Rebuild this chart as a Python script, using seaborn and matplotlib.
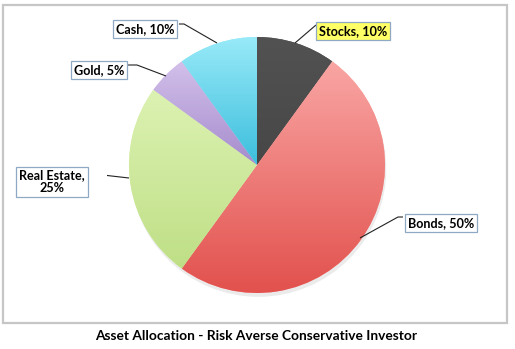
import matplotlib
matplotlib.use("Agg")
import matplotlib.pyplot as plt
import seaborn as sns
import numpy as np
from matplotlib.colors import LinearSegmentedColormap
from matplotlib.patches import Rectangle

sns.set_theme(style="white")
plt.rcParams['font.family'] = ['Lato', 'DejaVu Sans']

categories = ["Stocks", "Bonds", "Real Estate", "Gold", "Cash"]
values = [10, 50, 25, 5, 10]
label_texts = ["Stocks, 10%", "Bonds, 50%", "Real Estate,\n25%", "Gold, 5%", "Cash, 10%"]
title = "Asset Allocation - Risk Averse Conservative Investor"

top_colors = ["#525252", "#f9a6a4", "#dcf2b2", "#d3c0ea", "#98eaf8"]
bot_colors = ["#474747", "#e2514d", "#bfdf86", "#a58ccd", "#3cbedd"]
box_faces = ["#ffff66", "white", "white", "white", "white"]

W, H = 515, 349
fig = plt.figure(figsize=(W / 100, H / 100), dpi=100)

cx, cy, R = 257, 165, 128  # pixel centre (from top) and radius
half = 150
ax = fig.add_axes([(cx - half) / W, (H - cy - half) / H, 2 * half / W, 2 * half / H])
lim = half / R

def d(px, py):
    return ((px - cx) / R, (cy - py) / R)

wedges, _ = ax.pie(values, startangle=90, counterclock=False, colors=top_colors,
                   wedgeprops=dict(linewidth=0))

# subtle shadow
shadow = plt.Circle((0.01, -0.03), 1.0, color="#000000", alpha=0.08, zorder=0.5, lw=0)
ax.add_patch(shadow)

for w, c1, c2 in zip(wedges, top_colors, bot_colors):
    ext = w.get_path().get_extents()
    cmap = LinearSegmentedColormap.from_list("g", [c2, c1])
    grad = np.linspace(0, 1, 256).reshape(-1, 1)
    im = ax.imshow(grad, cmap=cmap, extent=(ext.x0, ext.x1, ext.y0, ext.y1),
                   origin="lower", aspect="auto", zorder=1.5, interpolation="bicubic")
    im.set_clip_path(w)

# label boxes: centre (px), leader points (px)
layout = [
    ((353, 31), [(316, 25), (295, 43)]),
    ((441, 223), [(403, 217), (398, 217), (360, 238)]),
    ((52, 182), [(88, 174), (94, 174), (129, 178)]),
    ((99, 70), [(128, 65), (137, 65), (166, 76)]),
    ((145, 29), [(179, 24), (184, 24), (217, 43)]),
]
for txt, face, (c, pts) in zip(label_texts, box_faces, layout):
    x, y = d(*c)
    ax.text(x, y, txt, ha="center", va="center", fontsize=9.1, fontweight="bold",
            color="black", linespacing=1.1, zorder=5,
            bbox=dict(boxstyle="square,pad=0.22", fc=face, ec="#8fa9c4", lw=0.9))
    xs, ys = zip(*[d(*p) for p in pts])
    ax.plot(xs, ys, color="#222222", lw=0.8, zorder=4, solid_capstyle="butt")

ax.set_xlim(-lim, lim)
ax.set_ylim(-lim, lim)
ax.set_aspect("equal")
ax.axis("off")

# outer border
x0, x1 = 3 / W, 507 / W
y0, y1 = (H - 323) / H, (H - 5) / H
fig.patches.append(Rectangle((x0, y0), x1 - x0, y1 - y0, transform=fig.transFigure,
                             fill=False, ec="#c6c6c6", lw=1.6, zorder=0))

fig.text(256 / W, (H - 336) / H, title, ha="center", va="center",
         fontsize=9.9, fontweight="bold", color="black")

fig.savefig("out.png", dpi=100)
